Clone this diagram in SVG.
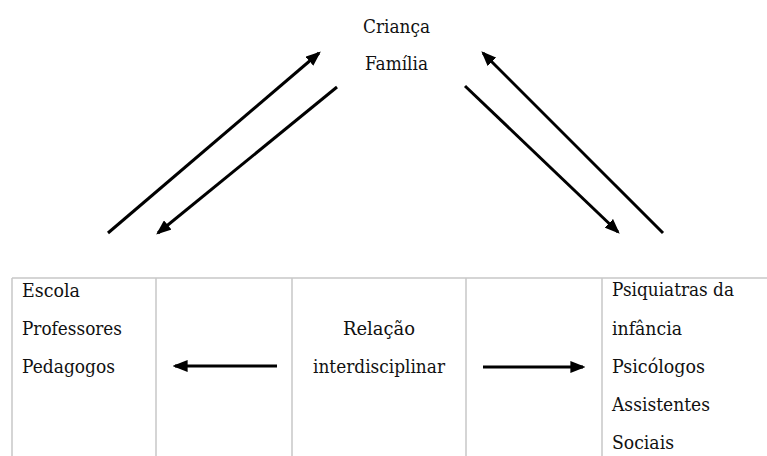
<svg xmlns="http://www.w3.org/2000/svg" width="767" height="456" viewBox="0 0 767 456">
<style>
.t{font-size:18.5px;fill:#111;font-family:"DejaVu Serif",serif}
.grid{stroke:#c8c8c8;stroke-width:1.5;fill:none}
.arr{stroke:#000;stroke-width:3;fill:none;marker-end:url(#ah)}
</style>
<defs>
<marker id="ah" markerWidth="5" markerHeight="4" refX="4.2" refY="2" orient="auto" markerUnits="strokeWidth">
<path d="M0,0 L5,2 L0,4 Z" fill="#000"/>
</marker>
</defs>
<rect width="767" height="456" fill="#fff"/>
<g id="table">
<path class="grid" d="M12,278 H767 M12,278 V456 M156,278 V456 M292,278 V456 M466,278 V456 M602,278 V456"/>
</g>
<g class="t">
<g id="top">
<text x="363" y="33" textLength="67" lengthAdjust="spacingAndGlyphs">Criança</text>
<text x="365" y="70" textLength="63" lengthAdjust="spacingAndGlyphs">Família</text>
</g>
<g id="left">
<text x="22" y="297" textLength="58" lengthAdjust="spacingAndGlyphs">Escola</text>
<text x="22" y="335" textLength="100" lengthAdjust="spacingAndGlyphs">Professores</text>
<text x="22" y="373" textLength="93" lengthAdjust="spacingAndGlyphs">Pedagogos</text>
</g>
<g id="center">
<text x="343" y="335" textLength="72" lengthAdjust="spacingAndGlyphs">Relação</text>
<text x="313" y="373" textLength="132" lengthAdjust="spacingAndGlyphs">interdisciplinar</text>
</g>
<g id="right">
<text x="612" y="296" textLength="122" lengthAdjust="spacingAndGlyphs">Psiquiatras da</text>
<text x="612" y="335" textLength="70" lengthAdjust="spacingAndGlyphs">infância</text>
<text x="612" y="373" textLength="93" lengthAdjust="spacingAndGlyphs">Psicólogos</text>
<text x="612" y="411" textLength="98" lengthAdjust="spacingAndGlyphs">Assistentes</text>
<text x="612" y="449" textLength="62" lengthAdjust="spacingAndGlyphs">Sociais</text>
</g>
</g>
<g id="connectors">
<line class="arr" x1="108" y1="233" x2="319" y2="53"/>
<line class="arr" x1="337" y1="87" x2="158" y2="233"/>
<line class="arr" x1="465" y1="86" x2="618" y2="232"/>
<line class="arr" x1="663" y1="233" x2="483" y2="53"/>
<line class="arr" x1="277" y1="366" x2="175" y2="366"/>
<line class="arr" x1="483" y1="367" x2="583" y2="367"/>
</g>
</svg>
